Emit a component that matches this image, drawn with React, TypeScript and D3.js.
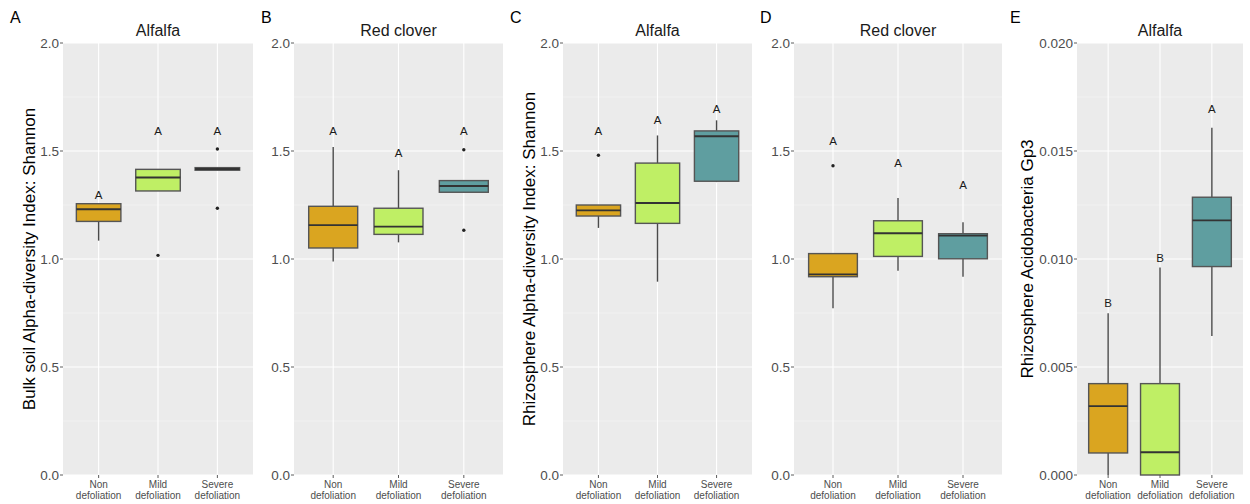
import React from "react";
import * as d3 from "d3";

// ---------- data ----------
const categories = ["Non defoliation", "Mild defoliation", "Severe defoliation"];
const categoryLines = [["Non", "defoliation"], ["Mild", "defoliation"], ["Severe", "defoliation"]];
const fillColors = ["#DAA520", "#BFEF65", "#5F9EA0"];

// stats per category: [whiskerLow, q1, median, q3, whiskerHigh]
const bulkAlfalfaStats = [
  [1.085, 1.174, 1.230, 1.256, 1.256],
  [1.315, 1.315, 1.377, 1.415, 1.415],
  [1.411, 1.411, 1.417, 1.423, 1.423],
];
const bulkAlfalfaOutliers = [[], [1.017], [1.509, 1.235]];
const bulkAlfalfaLetters = ["A", "A", "A"];
const bulkAlfalfaLetterY = [1.296, 1.593, 1.593];

const bulkCloverStats = [
  [0.988, 1.051, 1.157, 1.244, 1.519],
  [1.077, 1.114, 1.150, 1.235, 1.411],
  [1.309, 1.309, 1.338, 1.363, 1.363],
];
const bulkCloverOutliers = [[], [], [1.506, 1.133]];
const bulkCloverLetters = ["A", "A", "A"];
const bulkCloverLetterY = [1.593, 1.492, 1.593];

const rhizoAlfalfaStats = [
  [1.144, 1.199, 1.225, 1.250, 1.250],
  [0.895, 1.165, 1.259, 1.444, 1.572],
  [1.356, 1.360, 1.568, 1.593, 1.642],
];
const rhizoAlfalfaOutliers = [[1.480], [], []];
const rhizoAlfalfaLetters = ["A", "A", "A"];
const rhizoAlfalfaLetterY = [1.593, 1.644, 1.696];

const rhizoCloverStats = [
  [0.772, 0.918, 0.929, 1.025, 1.025],
  [0.946, 1.012, 1.119, 1.177, 1.282],
  [0.918, 1.001, 1.108, 1.117, 1.170],
];
const rhizoCloverOutliers = [[1.432], [], []];
const rhizoCloverLetters = ["A", "A", "A"];
const rhizoCloverLetterY = [1.545, 1.443, 1.344];

const gp3AlfalfaStats = [
  [0.0, 0.00102, 0.00319, 0.00423, 0.00749],
  [0.0, 0.0, 0.00105, 0.00423, 0.00961],
  [0.00644, 0.00965, 0.01179, 0.01286, 0.01608],
];
const gp3AlfalfaOutliers = [[], [], []];
const gp3AlfalfaLetters = ["B", "B", "A"];
const gp3AlfalfaLetterY = [0.00795, 0.01006, 0.01694];

const shannonTicks = [0, 0.5, 1.0, 1.5, 2.0];
const shannonTickLabels = ["0.0", "0.5", "1.0", "1.5", "2.0"];
const shannonMinor = [0.25, 0.75, 1.25, 1.75];
const gp3Ticks = [0, 0.005, 0.01, 0.015, 0.02];
const gp3TickLabels = ["0.000", "0.005", "0.010", "0.015", "0.020"];
const gp3Minor = [0.0025, 0.0075, 0.0125, 0.0175];

// ---------- layout ----------
const W = 1250;
const H = 504;
const TOP = 43;
const BOTTOM = 475;
const FONT = "'Liberation Sans', Arial, Helvetica, sans-serif";

const panels = [
  { tag: "A", title: "Alfalfa", x0: 63, x1: 253, tagX: 10, yTitle: "Bulk soil Alpha-diversity Index: Shannon", yTitleX: 29,
    domain: [0, 2], ticks: shannonTicks, tickLabels: shannonTickLabels, minor: shannonMinor,
    stats: bulkAlfalfaStats, outliers: bulkAlfalfaOutliers, letters: bulkAlfalfaLetters, letterY: bulkAlfalfaLetterY },
  { tag: "B", title: "Red clover", x0: 294, x1: 503, tagX: 261, yTitle: null, yTitleX: 0,
    domain: [0, 2], ticks: shannonTicks, tickLabels: shannonTickLabels, minor: shannonMinor,
    stats: bulkCloverStats, outliers: bulkCloverOutliers, letters: bulkCloverLetters, letterY: bulkCloverLetterY },
  { tag: "C", title: "Alfalfa", x0: 563, x1: 752, tagX: 510, yTitle: "Rhizosphere Alpha-diversity Index: Shannon", yTitleX: 529,
    domain: [0, 2], ticks: shannonTicks, tickLabels: shannonTickLabels, minor: shannonMinor,
    stats: rhizoAlfalfaStats, outliers: rhizoAlfalfaOutliers, letters: rhizoAlfalfaLetters, letterY: rhizoAlfalfaLetterY },
  { tag: "D", title: "Red clover", x0: 794, x1: 1002, tagX: 760, yTitle: null, yTitleX: 0,
    domain: [0, 2], ticks: shannonTicks, tickLabels: shannonTickLabels, minor: shannonMinor,
    stats: rhizoCloverStats, outliers: rhizoCloverOutliers, letters: rhizoCloverLetters, letterY: rhizoCloverLetterY },
  { tag: "E", title: "Alfalfa", x0: 1077, x1: 1243, tagX: 1010, yTitle: "Rhizosphere Acidobacteria Gp3", yTitleX: 1027,
    domain: [0, 0.02], ticks: gp3Ticks, tickLabels: gp3TickLabels, minor: gp3Minor,
    stats: gp3AlfalfaStats, outliers: gp3AlfalfaOutliers, letters: gp3AlfalfaLetters, letterY: gp3AlfalfaLetterY },
];

function Panel({ p }: { p: any }) {
  const y = d3.scaleLinear().domain(p.domain).range([BOTTOM, TOP]);
  const x = d3.scalePoint<string>().domain(categories).range([p.x0, p.x1]).padding(0.6);
  const unit = (p.x1 - p.x0) / (categories.length - 1 + 1.2);
  const bw = unit * 0.75;
  const cx = (p.x0 + p.x1) / 2;
  return (
    <g>
      <text x={p.tagX} y={23} fontSize={16} fontFamily={FONT} fill="#000">{p.tag}</text>
      <text x={cx} y={36} fontSize={16} fontFamily={FONT} fill="#1a1a1a" textAnchor="middle">{p.title}</text>
      <rect x={p.x0} y={TOP} width={p.x1 - p.x0} height={BOTTOM - TOP} fill="#EBEBEB" />
      {p.minor.map((v: number) => (
        <line key={"mn" + v} x1={p.x0} x2={p.x1} y1={y(v)} y2={y(v)} stroke="#F5F5F5" strokeWidth={0.6} />
      ))}
      {p.ticks.map((v: number) => (
        <line key={"mj" + v} x1={p.x0} x2={p.x1} y1={y(v)} y2={y(v)} stroke="#FFFFFF" strokeWidth={1.1} />
      ))}
      {categories.map((c) => (
        <line key={"vx" + c} x1={x(c)} x2={x(c)} y1={TOP} y2={BOTTOM} stroke="#FFFFFF" strokeWidth={1.1} />
      ))}
      {/* y axis */}
      {p.ticks.map((v: number, i: number) => (
        <g key={"yt" + v}>
          <line x1={p.x0 - 3} x2={p.x0} y1={y(v)} y2={y(v)} stroke="#333" strokeWidth={0.8} />
          <text x={p.x0 - 4} y={y(v)} dy="0.36em" textAnchor="end" fontSize={13.5} fontFamily={FONT} fill="#4D4D4D">{p.tickLabels[i]}</text>
        </g>
      ))}
      {/* x axis */}
      {categories.map((c, i) => (
        <g key={"xt" + c}>
          <line x1={x(c)} x2={x(c)} y1={BOTTOM} y2={BOTTOM + 3} stroke="#333" strokeWidth={0.8} />
          <text x={x(c)} y={488} textAnchor="middle" fontSize={10} fontFamily={FONT} fill="#4D4D4D">{categoryLines[i][0]}</text>
          <text x={x(c)} y={499} textAnchor="middle" fontSize={10} fontFamily={FONT} fill="#4D4D4D">{categoryLines[i][1]}</text>
        </g>
      ))}
      {p.yTitle && (
        <text transform={`translate(${p.yTitleX},${(TOP + BOTTOM) / 2}) rotate(-90)`} dy="0.35em" textAnchor="middle" fontSize={17} fontFamily={FONT} fill="#000">{p.yTitle}</text>
      )}
      {/* boxes */}
      {categories.map((c, i) => {
        const [lo, q1, med, q3, hi] = p.stats[i];
        const xc = x(c) as number;
        return (
          <g key={"bx" + c}>
            <line x1={xc} x2={xc} y1={y(hi)} y2={y(q3)} stroke="#4A4A4A" strokeWidth={1.4} />
            <line x1={xc} x2={xc} y1={y(q1)} y2={y(lo)} stroke="#4A4A4A" strokeWidth={1.4} />
            <rect x={xc - bw / 2} y={y(q3)} width={bw} height={Math.max(0.5, y(q1) - y(q3))} fill={fillColors[i]} stroke="#555" strokeWidth={1.4} />
            <line x1={xc - bw / 2} x2={xc + bw / 2} y1={y(med)} y2={y(med)} stroke="#333" strokeWidth={1.9} />
            {p.outliers[i].map((o: number, k: number) => (
              <circle key={k} cx={xc} cy={y(o)} r={1.7} fill="#222" />
            ))}
            <text x={xc} y={y(p.letterY[i])} dy="0.36em" textAnchor="middle" fontSize={11.5} fontFamily={FONT} fill="#1a1a1a">{p.letters[i]}</text>
          </g>
        );
      })}
    </g>
  );
}

export default function App() {
  return (
    <svg width={W} height={H} style={{ position: "absolute", left: 0, top: 0, background: "#fff" }}>
      <rect x={0} y={0} width={W} height={H} fill="#fff" />
      {panels.map((p) => (
        <Panel key={p.tag} p={p} />
      ))}
    </svg>
  );
}
